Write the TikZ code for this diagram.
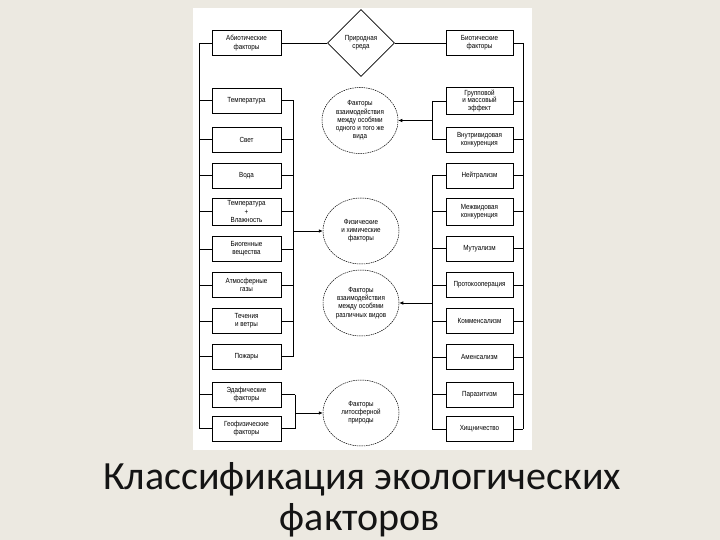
\documentclass[tikz,border=0pt]{standalone}
\usepackage{fontspec}
\setmainfont{Liberation Sans}
\newfontfamily\boxfont{Liberation Sans}[FakeStretch=0.85]
\newfontfamily\titlefont{Carlito}
\usetikzlibrary{shapes.geometric,arrows.meta}
\definecolor{slidebg}{RGB}{236,233,225}
\definecolor{titlecol}{RGB}{20,20,20}
\begin{document}
\begin{tikzpicture}[x=1pt,y=-1pt,
  every node/.style={font=\boxfont\fontsize{7.4}{8.2}\selectfont, align=center},
  fbox/.style={draw, line width=0.6pt, fill=white, minimum height=25pt, inner sep=1pt},
  lbox/.style={fbox, minimum width=69pt},
  rbox/.style={fbox, minimum width=67pt},
  fcirc/.style={ellipse, draw, line width=0.5pt, dash pattern=on 1.5pt off 0.8pt, minimum width=76pt, minimum height=66pt, inner sep=0pt},
  link/.style={line width=0.6pt},
  arr/.style={link, -{Latex[length=4pt,width=3.5pt]}},
  titletext/.style={font=\titlefont\fontsize{40}{48}\selectfont, text=titlecol, anchor=base}
]
\fill[slidebg] (0,0) rectangle (720,540);
\useasboundingbox (0,0) rectangle (720,540);
\fill[white] (193,8) rectangle (532,450);

% left column
\node[lbox] (L1) at (246.5,43) {Абиотические\\факторы};
\node[lbox] (L2) at (246.5,100.5) {Температура};
\node[lbox] (L3) at (246.5,139.5) {Свет};
\node[lbox] (L4) at (246.5,175.5) {Вода};
\node[lbox, minimum height=27pt] (L5) at (246.5,211.5) {Температура\\+\\Влажность};
\node[lbox] (L6) at (246.5,249) {Биогенные\\вещества};
\node[lbox] (L7) at (246.5,285) {Атмосферные\\газы};
\node[lbox] (L8) at (246.5,321) {Течения\\и ветры};
\node[lbox] (L9) at (246.5,356.5) {Пожары};
\node[lbox] (L10) at (246.5,394.5) {Эдафические\\факторы};
\node[lbox] (L11) at (246.5,428.5) {Геофизические\\факторы};

% right column
\node[rbox] (R1) at (479.5,43) {Биотические\\факторы};
\node[rbox, minimum height=27pt, font=\boxfont\fontsize{7.4}{7.7}\selectfont] (R2) at (479.5,101) {Групповой\\и массовый\\эффект};
\node[rbox] (R3) at (479.5,139.5) {Внутривидовая\\конкуренция};
\node[rbox] (R4) at (479.5,175.5) {Нейтрализм};
\node[rbox, minimum height=27pt] (R5) at (479.5,211.5) {Межвидовая\\конкуренция};
\node[rbox] (R6) at (479.5,248.5) {Мутуализм};
\node[rbox] (R7) at (479.5,285) {Протокооперация};
\node[rbox] (R8) at (479.5,321) {Комменсализм};
\node[rbox] (R9) at (479.5,357) {Аменсализм};
\node[rbox] (R10) at (479.5,394.5) {Паразитизм};
\node[rbox] (R11) at (479.5,429) {Хищничество};

% centre
\node[diamond, draw, line width=0.6pt, fill=white, minimum width=67pt, minimum height=67pt, inner sep=0pt, aspect=1] (D) at (361,43) {Природная\\среда};
\node[fcirc] (C1) at (360,120.5) {Факторы\\взаимодействия\\между особями\\одного и того же\\вида};
\node[fcirc] (C2) at (361,231) {Физические\\и химические\\факторы};
\node[fcirc] (C3) at (361,303) {Факторы\\взаимодействия\\между особями\\различных видов};
\node[fcirc] (C4) at (361,413) {Факторы\\литосферной\\природы};

% helper x positions
\coordinate (lbx) at (199,0);
\coordinate (lix) at (293,0);
\coordinate (lbr) at (295,0);
\coordinate (rix) at (432,0);
\coordinate (rox) at (523,0);

% diamond links
\draw[link] (L1.east) -- (D.west);
\draw[link] (D.east) -- (R1.west);

% left outer bus
\foreach \i in {1,...,11} \draw[link] (L\i.west) -- (L\i.west -| lbx);
\draw[link] (L1.west -| lbx) -- (L11.west -| lbx);

% left inner bus
\foreach \i in {2,...,9} \draw[link] (L\i.east) -- (L\i.east -| lix);
\draw[link] (L2.east -| lix) -- (L9.east -| lix);
\draw[arr] (C2.west -| lix) -- (C2.west);

% left bottom bracket
\foreach \i in {10,11} \draw[link] (L\i.east) -- (L\i.east -| lbr);
\draw[link] (L10.east -| lbr) -- (L11.east -| lbr);
\draw[arr] (C4.west -| lbr) -- (C4.west);

% right outer bus
\foreach \i in {1,...,11} \draw[link] (R\i.east) -- (R\i.east -| rox);
\draw[link] (R1.east -| rox) -- (R11.east -| rox);

% right top bracket
\foreach \i in {2,3} \draw[link] (R\i.west) -- (R\i.west -| rix);
\draw[link] (R2.west -| rix) -- (R3.west -| rix);
\draw[arr] (C1.east -| rix) -- (C1.east);

% right inner bus
\foreach \i in {4,...,11} \draw[link] (R\i.west) -- (R\i.west -| rix);
\draw[link] (R4.west -| rix) -- (R11.west -| rix);
\draw[arr] (C3.east -| rix) -- (C3.east);

% title
\node[titletext] (T1) at (362,489) {Классификация экологических};
\node[titletext] (T2) at (360,530) {факторов};
\end{tikzpicture}
\end{document}
